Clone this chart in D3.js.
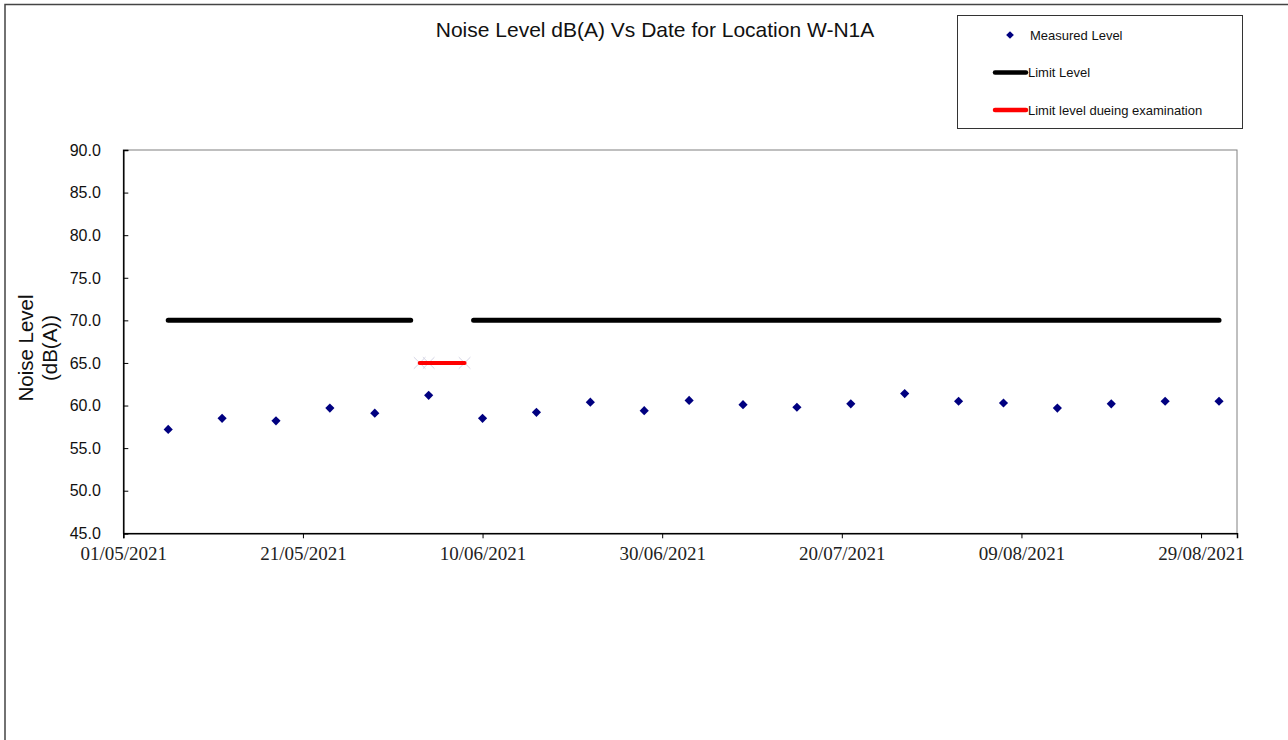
<!DOCTYPE html>
<html>
<head>
<meta charset="utf-8">
<script src="https://cdn.jsdelivr.net/npm/d3@7"></script>
<style>
  body { margin: 0; background: #fff; }
  svg { display: block; }
</style>
</head>
<body>
<div id="chart"></div>
<script>
"use strict";

// measured noise levels
const measureDates = ["2021-05-06", "2021-05-12", "2021-05-18", "2021-05-24", "2021-05-29",
  "2021-06-04", "2021-06-10", "2021-06-16", "2021-06-22", "2021-06-28", "2021-07-03",
  "2021-07-09", "2021-07-15", "2021-07-21", "2021-07-27", "2021-08-02", "2021-08-07",
  "2021-08-13", "2021-08-19", "2021-08-25", "2021-08-31"];
const measuredLevel = [57.2, 58.5, 58.2, 59.7, 59.1, 61.2, 58.5, 59.2, 60.4, 59.4, 60.6,
  60.1, 59.8, 60.2, 61.4, 60.5, 60.3, 59.7, 60.2, 60.5, 60.5];

// limit level (gap during examination)
const limitDates = ["2021-05-06", "2021-06-02", null, "2021-06-09", "2021-08-31"];
const limitLevel = [70, 70, null, 70, 70];

// limit during examination
const examDates = ["2021-06-03", "2021-06-04", "2021-06-08"];
const examLevel = [65, 65, 65];

const tickDates = ["2021-05-01", "2021-05-21", "2021-06-10", "2021-06-30",
  "2021-07-20", "2021-08-09", "2021-08-29"];
const yTicks = [45, 50, 55, 60, 65, 70, 75, 80, 85, 90];

const W = 1288, H = 740;
const parse = d3.timeParse("%Y-%m-%d");
const fmt = d3.timeFormat("%d/%m/%Y");

const pLeft = 123.3, pRight = 1237, pTop = 150, pBottom = 533.3;

var x = d3.scaleTime()
    .domain([parse("2021-05-01"), parse("2021-09-02")])
    .range([pLeft, pRight]);

var y = d3.scaleLinear()
    .domain([45, 90])
    .range([pBottom, pTop]);

var svg = d3.select("#chart").append("svg")
    .attr("width", W)
    .attr("height", H)
    .style("font-family", "'Liberation Sans', Arial, sans-serif");

// outer chart border
svg.append("rect")
    .attr("x", 5).attr("y", 4.5)
    .attr("width", W + 20).attr("height", H + 20)
    .attr("fill", "none")
    .attr("stroke", "#444")
    .attr("stroke-width", 1.5);

// title
svg.append("text")
    .attr("x", 655).attr("y", 36.5)
    .attr("text-anchor", "middle")
    .attr("font-size", 21)
    .attr("fill", "#111")
    .text("Noise Level dB(A) Vs Date for Location W-N1A");

// plot frame (top/right in grey)
svg.append("rect")
    .attr("x", pLeft).attr("y", pTop)
    .attr("width", pRight - pLeft).attr("height", pBottom - pTop)
    .attr("fill", "none")
    .attr("stroke", "#808080")
    .attr("stroke-width", 1);

// y axis, ticks inside
var yAxis = svg.append("g")
    .attr("transform", "translate(" + pLeft + ",0)")
    .call(d3.axisRight(y).tickValues(yTicks).tickSize(5).tickFormat(""));
yAxis.select(".domain").attr("stroke", "#000").attr("stroke-width", 1.5);

svg.append("g").selectAll("text")
    .data(yTicks)
  .enter().append("text")
    .attr("x", pLeft - 22.5)
    .attr("y", function(d) { return y(d); })
    .attr("dy", "0.36em")
    .attr("text-anchor", "end")
    .attr("font-size", 16)
    .attr("fill", "#111")
    .text(function(d) { return d3.format(".1f")(d); });

// x axis, ticks outside
var xAxis = svg.append("g")
    .attr("transform", "translate(0," + pBottom + ")")
    .call(d3.axisBottom(x).tickValues(tickDates.map(parse)).tickSize(5).tickPadding(8).tickFormat(fmt));
xAxis.select(".domain").attr("stroke", "#000").attr("stroke-width", 1.5);
xAxis.selectAll("text")
    .attr("font-family", "'Liberation Serif', 'Times New Roman', serif")
    .attr("font-size", 19)
    .attr("fill", "#222");

// y axis title
var yt = svg.append("text")
    .attr("transform", "translate(33,348) rotate(-90)")
    .attr("text-anchor", "middle")
    .attr("font-size", 20.5)
    .attr("fill", "#111");
yt.append("tspan").attr("x", 0).attr("y", 0).text("Noise Level");
yt.append("tspan").attr("x", 0).attr("y", 24).text("(dB(A))");

// limit level line
var limitPts = limitDates.map(function(d, i) { return { date: d ? parse(d) : null, v: limitLevel[i] }; });
var line = d3.line()
    .defined(function(d) { return d.date !== null && d.v !== null; })
    .x(function(d) { return x(d.date); })
    .y(function(d) { return y(d.v); });

svg.append("path")
    .datum(limitPts)
    .attr("d", line)
    .attr("fill", "none")
    .attr("stroke", "#000")
    .attr("stroke-width", 5)
    .attr("stroke-linecap", "round");

// exam limit line
var examPts = examDates.map(function(d, i) { return { date: parse(d), v: examLevel[i] }; });
var cross = d3.symbol().type(d3.symbolX).size(90);
svg.append("g").selectAll("path")
    .data(examPts)
  .enter().append("path")
    .attr("d", cross)
    .attr("transform", function(d) { return "translate(" + x(d.date) + "," + y(d.v) + ")"; })
    .attr("fill", "none")
    .attr("stroke", "#d4d4e4")
    .attr("stroke-width", 1);

svg.append("path")
    .datum(examPts)
    .attr("d", line)
    .attr("fill", "none")
    .attr("stroke", "#ff0000")
    .attr("stroke-width", 4)
    .attr("stroke-linecap", "round");

// measured points (diamonds)
var diamond = d3.symbol().type(d3.symbolSquare).size(42);
svg.append("g").selectAll("path")
    .data(measureDates.map(function(d, i) { return { date: parse(d), v: measuredLevel[i] }; }))
  .enter().append("path")
    .attr("d", diamond)
    .attr("transform", function(d) { return "translate(" + x(d.date) + "," + y(d.v) + ") rotate(45)"; })
    .attr("fill", "#000080");

// legend
var lg = svg.append("g");
lg.append("rect")
    .attr("x", 957.5).attr("y", 15.5)
    .attr("width", 285).attr("height", 113)
    .attr("fill", "#fff")
    .attr("stroke", "#333")
    .attr("stroke-width", 1);
lg.append("path")
    .attr("d", d3.symbol().type(d3.symbolSquare).size(30))
    .attr("transform", "translate(1010,35) rotate(45)")
    .attr("fill", "#000080");
lg.append("line")
    .attr("x1", 995).attr("x2", 1026).attr("y1", 72.5).attr("y2", 72.5)
    .attr("stroke", "#000").attr("stroke-width", 4.5).attr("stroke-linecap", "round");
lg.append("line")
    .attr("x1", 995).attr("x2", 1026).attr("y1", 110).attr("y2", 110)
    .attr("stroke", "#ff0000").attr("stroke-width", 4.5).attr("stroke-linecap", "round");
var legendLabels = [["Measured Level", 1030, 35], ["Limit Level", 1028, 72.5], ["Limit level dueing examination", 1028, 110]];
lg.selectAll("text.lbl")
    .data(legendLabels)
  .enter().append("text")
    .attr("class", "lbl")
    .attr("x", function(d) { return d[1]; })
    .attr("y", function(d) { return d[2]; })
    .attr("dy", "0.36em")
    .attr("font-size", 13)
    .attr("fill", "#111")
    .text(function(d) { return d[0]; });
</script>
</body>
</html>
